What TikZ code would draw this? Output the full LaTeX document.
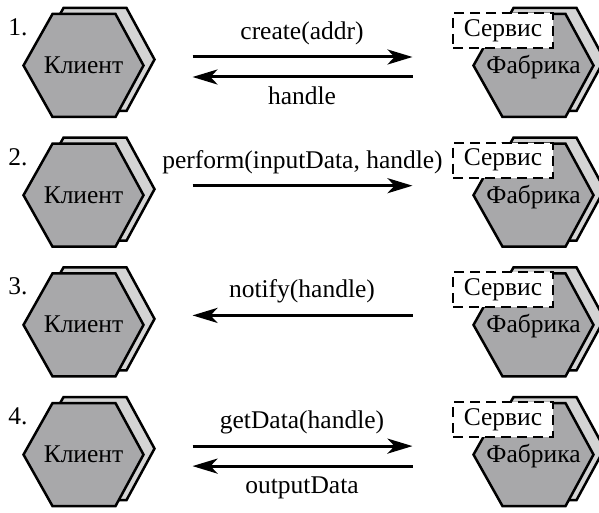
\documentclass[tikz,border=0pt]{standalone}
\usepackage{fontspec}
\setmainfont{Liberation Serif}
\usetikzlibrary{arrows.meta}
\definecolor{hexfront}{HTML}{A8A8AA}
\definecolor{hexback}{HTML}{D4D4D4}
\tikzset{
  hexline/.style={draw=black, line width=1.25pt, line join=miter},
  msg/.style={line width=1.5pt, -{Stealth[length=12.5pt,width=7.5pt,inset=3.5pt]}},
  lbl/.style={font=\fontsize{12.75}{15}\selectfont, inner sep=0pt, anchor=base},
  svc/.style={draw=black, dash pattern=on 5pt off 3pt, line width=1pt, fill=white,
    minimum width=50pt, minimum height=17.5pt, inner sep=0pt,
    font=\fontsize{12.75}{15}\selectfont},
  pics/hexstack/.style={code={
    % rear plate, shifted right and up
    \draw[hexline, fill=hexback] (-49,-6) -- (-20,-57.5) -- (43,-57.5) -- (71,-6)
      -- (43,45.5) -- (-20,45.5) -- cycle;
    % front plate
    \draw[hexline, fill=hexfront] (-60,0) -- (-31,-51.5) -- (32,-51.5) -- (60,0)
      -- (32,51.5) -- (-31,51.5) -- cycle;
  }},
}
\begin{document}
\begin{tikzpicture}[x=0.5pt,y=-0.5pt]
\useasboundingbox (0,0) rectangle (599,513);
\clip (0,0) rectangle (599,513);
\foreach \r/\cy in {1/65.5,2/195.2,3/324.9,4/454.6}{
  \pic at (83.5,\cy) {hexstack};
  \pic at (533.5,\cy) {hexstack};
  \node[lbl] (client\r) at (83.5,\cy+8) {Клиент};
  \node[lbl] (factory\r) at (533.5,\cy+8) {Фабрика};
  \node[svc] (service\r) at (503,\cy-35) {Сервис};
  \node[lbl, anchor=base west] (num\r) at (8,\cy-30) {\r.};
  % arrow ends: upper, lower and single message lines
  \coordinate (cu\r) at (192.5,\cy-8.5);
  \coordinate (fu\r) at (412.5,\cy-8.5);
  \coordinate (cd\r) at (192.5,\cy+11.5);
  \coordinate (fd\r) at (412.5,\cy+11.5);
  \coordinate (cs\r) at (192.5,\cy-9.5);
  \coordinate (fs\r) at (412.5,\cy-9.5);
}
% 1. create
\draw[msg] (cu1) -- (fu1);
\draw[msg] (fd1) -- (cd1);
\node[lbl] (m1a) at (302,65.5-26) {create(addr)};
\node[lbl] (m1b) at (302,65.5+39.5) {handle};
% 2. perform
\draw[msg] (cs2) -- (fs2);
\node[lbl] (m2a) at (302.5,195.2-27) {perform(inputData, handle)};
% 3. notify
\draw[msg] (fs3) -- (cs3);
\node[lbl] (m3a) at (302,324.9-27) {notify(handle)};
% 4. getData
\draw[msg] (cu4) -- (fu4);
\draw[msg] (fd4) -- (cd4);
\node[lbl] (m4a) at (302,454.6-26.5) {getData(handle)};
\node[lbl] (m4b) at (302,454.6+38.5) {outputData};
\end{tikzpicture}
\end{document}
